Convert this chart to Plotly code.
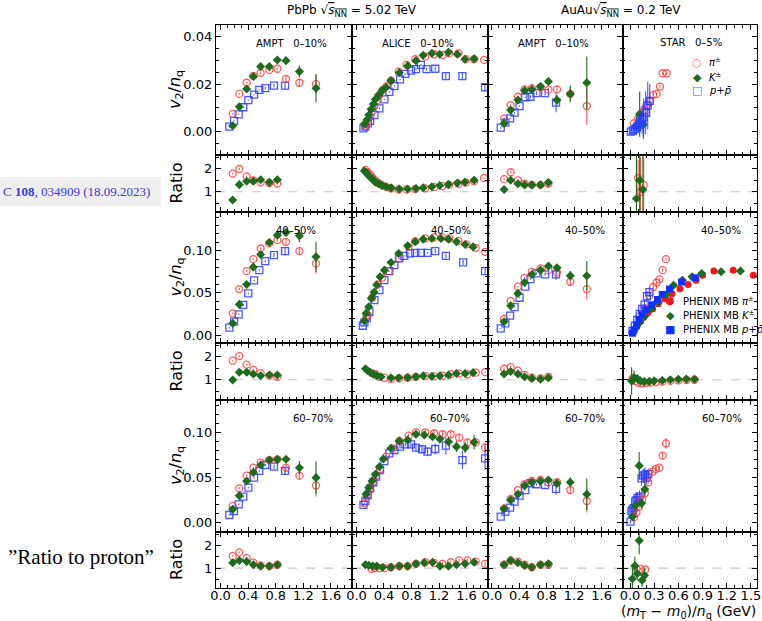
import plotly.graph_objects as go

# ---------------- data ----------------
# AMPT bins (shared by the AMPT panels)
AMPT_X_PI = [0.177, 0.273, 0.379, 0.476, 0.582, 0.708, 0.824, 0.949, 1.143, 1.384]
AMPT_X_K = [0.177, 0.273, 0.379, 0.476, 0.582, 0.708, 0.824, 0.949, 1.143, 1.384]
AMPT_X_P = [0.128, 0.196, 0.264, 0.330, 0.403, 0.486, 0.562, 0.649, 0.775, 0.935]
AMPT_X_RATIO = [0.177, 0.273, 0.379, 0.476, 0.582, 0.708, 0.824]

# PbPb AMPT 0-10%
pb_ampt_010_pi = [0.0075, 0.0159, 0.0206, 0.0235, 0.0248, 0.0260, 0.0265, 0.0222, 0.0206, 0.0200]
pb_ampt_010_pi_err = [0.0004, 0.0004, 0.0004, 0.0004, 0.0005, 0.0005, 0.0006, 0.0012, 0.0015, 0.004]
pb_ampt_010_k = [0.0025, 0.0105, 0.0180, 0.0232, 0.0274, 0.0274, 0.0302, 0.0299, 0.0253, 0.0183]
pb_ampt_010_k_err = [0.0004, 0.0004, 0.0005, 0.0005, 0.0006, 0.0007, 0.0008, 0.0012, 0.0025, 0.006]
pb_ampt_010_p = [0.0021, 0.0046, 0.0073, 0.0103, 0.0133, 0.0156, 0.0176, 0.0183, 0.0194, 0.0194]
pb_ampt_010_p_err = [0.0003, 0.0003, 0.0003, 0.0003, 0.0003, 0.0003, 0.0003, 0.0005, 0.0008, 0.0015]
pb_ampt_010_r_pi = [1.79, 1.99, 1.67, 1.50, 1.41, 1.38, 1.36]
pb_ampt_010_r_k = [0.64, 1.31, 1.46, 1.46, 1.52, 1.41, 1.52]

# PbPb AMPT 40-50%
pb_ampt_4050_pi = [0.0257, 0.0545, 0.0758, 0.0900, 0.1027, 0.1087, 0.1126, 0.1106, 0.0995, 0.0850]
pb_ampt_4050_k = [0.0138, 0.0363, 0.0600, 0.0806, 0.0956, 0.1098, 0.1185, 0.1217, 0.1177, 0.0928]
pb_ampt_4050_p = [0.0087, 0.0158, 0.0245, 0.0356, 0.0494, 0.0648, 0.0770, 0.0877, 0.0948, 0.0995]
pb_ampt_4050_r_pi = [1.83, 2.03, 1.66, 1.43, 1.29, 1.18, 1.13]
pb_ampt_4050_r_k = [0.99, 1.33, 1.33, 1.25, 1.18, 1.21, 1.21]

# PbPb AMPT 60-70%
pb_ampt_6070_pi = [0.0185, 0.0380, 0.0520, 0.0608, 0.0665, 0.0693, 0.0701, 0.0608, 0.0520, 0.0410]
pb_ampt_6070_k = [0.0148, 0.0299, 0.0461, 0.0557, 0.0638, 0.0693, 0.0701, 0.0701, 0.0608, 0.0498]
pb_ampt_6070_p = [0.0085, 0.0129, 0.0203, 0.0288, 0.0387, 0.0498, 0.0572, 0.0638, 0.0619, 0.0572]
pb_ampt_6070_r_pi = [1.53, 1.70, 1.44, 1.24, 1.12, 1.09, 1.15]
pb_ampt_6070_r_k = [1.24, 1.34, 1.29, 1.15, 1.09, 1.09, 1.15]

# AuAu AMPT 0-10%
au_ampt_010_pi = [0.0056, 0.0112, 0.0147, 0.0178, 0.0183, 0.0187, 0.0176, 0.0178, 0.0159, 0.0108]
au_ampt_010_pi_err = [0.0004, 0.0004, 0.0005, 0.0005, 0.0006, 0.0007, 0.0009, 0.0015, 0.003, 0.0079]
au_ampt_010_k = [0.0035, 0.0091, 0.0133, 0.0173, 0.0178, 0.0190, 0.0211, 0.0133, 0.0159, 0.0206]
au_ampt_010_k_err = [0.0004, 0.0005, 0.0005, 0.0006, 0.0007, 0.0008, 0.001, 0.002, 0.0035, 0.011]
au_ampt_010_p = [0.0017, 0.0038, 0.0056, 0.0080, 0.0108, 0.0145, 0.0147, 0.0162, 0.0162, 0.0122]
au_ampt_010_p_err = [0.0003, 0.0003, 0.0003, 0.0003, 0.0003, 0.0003, 0.0006, 0.0008, 0.001, 0.004]
au_ampt_010_r_pi = [1.55, 1.85, 1.50, 1.35, 1.30, 1.30, 1.35]
au_ampt_010_r_k = [1.10, 1.50, 1.35, 1.30, 1.30, 1.30, 1.40]

# AuAu AMPT 40-50%
au_ampt_4050_pi = [0.0190, 0.0403, 0.0573, 0.0679, 0.0750, 0.0790, 0.0770, 0.0743, 0.0632, 0.0545]
au_ampt_4050_k = [0.0158, 0.0347, 0.0494, 0.0624, 0.0719, 0.0770, 0.0818, 0.0798, 0.0703, 0.0703]
au_ampt_4050_p = [0.0079, 0.0138, 0.0229, 0.0332, 0.0442, 0.0573, 0.0664, 0.0731, 0.0719, 0.0719]
au_ampt_4050_r_pi = [1.48, 1.55, 1.40, 1.21, 1.09, 1.06, 1.13]
au_ampt_4050_r_k = [1.25, 1.36, 1.25, 1.13, 1.06, 1.03, 1.09]

# AuAu AMPT 60-70%
au_ampt_6070_pi = [0.0159, 0.0262, 0.0361, 0.0425, 0.0461, 0.0472, 0.0447, 0.0447, 0.0361, 0.0240]
au_ampt_6070_k = [0.0153, 0.0251, 0.0314, 0.0410, 0.0447, 0.0461, 0.0472, 0.0435, 0.0447, 0.0314]
au_ampt_6070_p = [0.0066, 0.0122, 0.0166, 0.0232, 0.0299, 0.0361, 0.0436, 0.0425, 0.0417, 0.0373]
au_ampt_6070_r_pi = [1.15, 1.34, 1.29, 1.15, 1.04, 1.15, 1.15]
au_ampt_6070_r_k = [1.15, 1.34, 1.24, 1.12, 1.04, 1.15, 1.19]

# ALICE 0-10%
alice_010_pi_x = [0.130, 0.164, 0.198, 0.227, 0.261, 0.295, 0.333, 0.382, 0.440, 0.502, 0.614,
                  0.729, 0.855, 1.000, 1.130, 1.251, 1.348, 1.483, 1.590, 1.710, 1.855]
alice_010_pi = [0.0024, 0.0042, 0.0063, 0.0087, 0.0108, 0.0131, 0.0153, 0.0176, 0.0192, 0.0215, 0.0253,
                0.0281, 0.0305, 0.0316, 0.0326, 0.0323, 0.0330, 0.0330, 0.0305, 0.0305, 0.0302]
alice_010_k_x = [0.116, 0.150, 0.179, 0.213, 0.246, 0.275, 0.324, 0.372, 0.430, 0.502, 0.623,
                 0.744, 0.865, 0.970, 1.096, 1.210, 1.336, 1.466, 1.577, 1.710]
alice_010_k = [0.0032, 0.0049, 0.0070, 0.0094, 0.0117, 0.0136, 0.0155, 0.0173, 0.0187, 0.0215, 0.0248,
               0.0277, 0.0299, 0.0322, 0.0330, 0.0326, 0.0334, 0.0326, 0.0305, 0.0307]
alice_010_p_x = [0.101, 0.130, 0.164, 0.198, 0.261, 0.333, 0.406, 0.478, 0.551, 0.633, 0.710,
                 0.792, 0.865, 0.937, 1.019, 1.145, 1.300, 1.540, 1.869]
alice_010_p = [0.0014, 0.0021, 0.0035, 0.0046, 0.0070, 0.0098, 0.0136, 0.0168, 0.0192, 0.0220, 0.0243,
               0.0257, 0.0263, 0.0281, 0.0263, 0.0265, 0.0234, 0.0234, 0.0187]
alice_010_p_err = [0.0003] * 13 + [0.0004, 0.0005, 0.0008, 0.0012, 0.0012, 0.0015]
alice_010_r_pi = [1.95, 1.85, 1.75, 1.62, 1.52, 1.43, 1.35, 1.27, 1.20, 1.15, 1.10,
                  1.10, 1.12, 1.15, 1.20, 1.25, 1.30, 1.35, 1.40, 1.45, 1.60]
alice_010_r_k = [1.90, 1.82, 1.70, 1.60, 1.50, 1.42, 1.35, 1.28, 1.22, 1.17, 1.12,
                 1.12, 1.14, 1.17, 1.22, 1.27, 1.32, 1.38, 1.42, 1.50]

# ALICE 40-50%
alice_4050_pi_x = [0.140, 0.164, 0.227, 0.309, 0.372, 0.468, 0.614, 0.758, 0.855, 1.000, 1.130,
                   1.242, 1.348, 1.483, 1.600, 1.734, 1.870]
alice_4050_pi = [0.0198, 0.0237, 0.0442, 0.0600, 0.0679, 0.0758, 0.0909, 0.1046, 0.1114, 0.1146, 0.1158,
                 0.1158, 0.1146, 0.1114, 0.1075, 0.1035, 0.0987]
alice_4050_k_x = [0.116, 0.140, 0.179, 0.217, 0.256, 0.295, 0.343, 0.406, 0.502, 0.614, 0.744,
                  0.855, 0.971, 1.096, 1.227, 1.338, 1.454, 1.580, 1.696]
alice_4050_k = [0.0166, 0.0257, 0.0336, 0.0435, 0.0506, 0.0593, 0.0691, 0.0770, 0.0861, 0.0968, 0.1058,
                0.1106, 0.1138, 0.1146, 0.1146, 0.1138, 0.1106, 0.1075, 0.1046]
alice_4050_p_x = [0.092, 0.116, 0.150, 0.188, 0.261, 0.333, 0.406, 0.478, 0.551, 0.623, 0.696,
                  0.778, 0.855, 0.937, 1.034, 1.145, 1.300, 1.551, 1.870]
alice_4050_p = [0.0110, 0.0150, 0.0198, 0.0276, 0.0415, 0.0533, 0.0652, 0.0758, 0.0830, 0.0909, 0.0940,
                0.0968, 0.0975, 0.0975, 0.0975, 0.0995, 0.0940, 0.0861, 0.0758]
alice_4050_p_err = [0.0005] * 14 + [0.001, 0.0025, 0.003, 0.003, 0.004]
alice_4050_r_pi_x = [0.227, 0.275, 0.333, 0.406, 0.502, 0.623, 0.744, 0.865, 1.000, 1.130, 1.251,
                     1.372, 1.493, 1.613, 1.734, 1.870]
alice_4050_r_pi = [1.28, 1.24, 1.13, 1.09, 1.03, 1.06, 1.09, 1.13, 1.17, 1.15, 1.18,
                   1.24, 1.27, 1.24, 1.31, 1.33]
alice_4050_r_k_x = [0.130, 0.164, 0.198, 0.246, 0.295, 0.357, 0.502, 0.614, 0.744, 0.865, 0.971,
                    1.096, 1.213, 1.338, 1.454, 1.580, 1.696]
alice_4050_r_k = [1.48, 1.39, 1.33, 1.24, 1.18, 1.13, 1.09, 1.09, 1.10, 1.13, 1.17,
                  1.15, 1.17, 1.21, 1.27, 1.27, 1.31]

# ALICE 60-70%
alice_6070_pi_x = [0.116, 0.150, 0.188, 0.237, 0.285, 0.343, 0.430, 0.527, 0.623, 0.758, 0.865,
                   1.000, 1.130, 1.251, 1.372, 1.493, 1.613, 1.734, 1.870]
alice_6070_pi = [0.0214, 0.0288, 0.0361, 0.0447, 0.0520, 0.0594, 0.0730, 0.0823, 0.0904, 0.0962, 0.1000,
                 0.1000, 0.0989, 0.0978, 0.0978, 0.0940, 0.0889, 0.0889, 0.0830]
alice_6070_pi_err = [0.001] * 9 + [0.002, 0.002, 0.003, 0.003, 0.003, 0.003, 0.004, 0.004, 0.005, 0.006]
alice_6070_k_x = [0.140, 0.179, 0.227, 0.275, 0.333, 0.391, 0.502, 0.623, 0.744, 0.865, 0.986,
                  1.106, 1.213, 1.338, 1.454, 1.580, 1.710]
alice_6070_k = [0.0314, 0.0387, 0.0461, 0.0535, 0.0619, 0.0704, 0.0823, 0.0904, 0.0915, 0.0978, 0.0970,
                0.0951, 0.0926, 0.0896, 0.0841, 0.0830, 0.0889]
alice_6070_k_err = [0.001] * 8 + [0.002, 0.003, 0.004, 0.004, 0.005, 0.005, 0.006, 0.006, 0.008]
alice_6070_p_x = [0.101, 0.130, 0.164, 0.198, 0.246, 0.285, 0.343, 0.406, 0.478, 0.551, 0.633,
                  0.710, 0.792, 0.865, 0.952, 1.034, 1.145, 1.300, 1.541, 1.870]
alice_6070_p = [0.0196, 0.0240, 0.0306, 0.0380, 0.0447, 0.0509, 0.0583, 0.0682, 0.0767, 0.0804, 0.0841,
                0.0867, 0.0867, 0.0830, 0.0812, 0.0785, 0.0815, 0.0852, 0.0693, 0.0712]
alice_6070_p_err = [0.001] * 10 + [0.002, 0.002, 0.003, 0.004, 0.004, 0.005, 0.006, 0.010, 0.010, 0.013]
alice_6070_r_pi_x = [0.220, 0.266, 0.333, 0.406, 0.502, 0.623, 0.744, 0.865, 1.000, 1.130, 1.251,
                     1.372, 1.493, 1.613, 1.734, 1.870]
alice_6070_r_pi = [0.97, 1.00, 1.00, 1.00, 1.04, 1.09, 1.09, 1.19, 1.26, 1.22, 1.19,
                   1.26, 1.34, 1.34, 1.29, 1.19]
alice_6070_r_k_x = [0.130, 0.179, 0.237, 0.295, 0.382, 0.502, 0.623, 0.744, 0.865, 0.986, 1.106,
                    1.213, 1.338, 1.454, 1.580, 1.710]
alice_6070_r_k = [1.15, 1.12, 1.09, 1.09, 1.04, 1.04, 1.09, 1.09, 1.19, 1.24, 1.26,
                  1.09, 1.09, 1.15, 1.19, 1.26]

# STAR 0-5%
star_005_pi_x = [0.047, 0.101, 0.131, 0.172, 0.205, 0.247, 0.288, 0.330, 0.371, 0.405, 0.455]
star_005_pi = [0.0035, 0.0056, 0.0070, 0.0091, 0.0112, 0.0126, 0.0155, 0.0159, 0.0190, 0.0246, 0.0246]
star_005_k_x = [0.080, 0.120, 0.165]
star_005_k = [0.0025, 0.0074, 0.0030]
star_005_k_err = [0.004, 0.0095, 0.006]
star_005_p_x = [0.010, 0.035, 0.060, 0.085, 0.110, 0.130, 0.150, 0.170, 0.195, 0.220, 0.245]
star_005_p = [0.0000, 0.0005, 0.0012, 0.0020, 0.0030, 0.0040, 0.0050, 0.0060, 0.0080, 0.0110, 0.0130]
star_005_p_err = [0.0015, 0.002, 0.002, 0.003, 0.003, 0.004, 0.006, 0.008, 0.009, 0.010, 0.007]
star_005_r_pi_x = [0.100, 0.130, 0.170]
star_005_r_pi = [1.6, 1.0, 1.3]
star_005_r_pi_err = [0.8, 1.5, 1.2]
star_005_r_k_x = [0.080, 0.120, 0.160]
star_005_r_k = [0.7, 1.5, 1.1]
star_005_r_k_err = [3.0, 3.0, 3.0]

# STAR 40-50% and PHENIX minimum bias
star_4050_pi_x = [0.120, 0.180, 0.240, 0.288, 0.330, 0.363, 0.404, 0.446]
star_4050_pi = [0.022, 0.032, 0.047, 0.057, 0.062, 0.066, 0.077, 0.090]
star_4050_p_x = [0.030, 0.060, 0.090, 0.120, 0.150, 0.180, 0.210, 0.240]
star_4050_p = [0.005, 0.011, 0.018, 0.025, 0.031, 0.036, 0.046, 0.051]
star_4050_p_err = [0.002, 0.002, 0.003, 0.003, 0.004, 0.005, 0.006, 0.006]
phenix_pi_x = [0.05, 0.09, 0.13, 0.17, 0.22, 0.28, 0.35, 0.43, 0.52, 0.62, 0.72, 0.82, 0.90, 1.04, 1.28, 1.53]
phenix_pi = [0.006, 0.011, 0.016, 0.021, 0.026, 0.031, 0.037, 0.043, 0.049, 0.055, 0.060, 0.065,
             0.071, 0.076, 0.077, 0.071]
phenix_k_x = [0.07, 0.12, 0.18, 0.26, 0.35, 0.45, 0.54, 0.65, 0.77, 0.89, 1.13, 1.37]
phenix_k = [0.008, 0.015, 0.022, 0.031, 0.039, 0.048, 0.059, 0.065, 0.069, 0.073, 0.075, 0.076]
phenix_p_x = [0.03, 0.05, 0.08, 0.11, 0.15, 0.20, 0.27, 0.34, 0.40, 0.49, 0.64, 0.81]
phenix_p = [0.002, 0.006, 0.012, 0.018, 0.024, 0.030, 0.036, 0.042, 0.048, 0.0545, 0.063, 0.068]
phenix_r_pi_x = [0.03, 0.06, 0.10, 0.14, 0.19, 0.25, 0.32, 0.40, 0.50, 0.60, 0.70, 0.80]
phenix_r_pi = [1.05, 0.95, 0.88, 0.85, 0.86, 0.88, 0.90, 0.92, 0.95, 0.97, 0.99, 1.00]
phenix_r_k_x = [0.02, 0.05, 0.09, 0.13, 0.18, 0.24, 0.30, 0.40, 0.50, 0.60, 0.70, 0.80]
phenix_r_k = [0.95, 1.10, 1.05, 0.95, 0.92, 0.93, 0.95, 0.97, 1.00, 1.02, 1.03, 1.02]
phenix_r_k_err = [0.6, 0.3, 0.15, 0.1, 0.08, 0.05, 0.04, 0.03, 0.03, 0.03, 0.03, 0.03]

# STAR 60-70%
star_6070_pi_x = [0.050, 0.080, 0.114, 0.150, 0.184, 0.226, 0.280, 0.321, 0.363, 0.404, 0.446]
star_6070_pi = [0.006, 0.011, 0.0177, 0.025, 0.0325, 0.0447, 0.0564, 0.0594, 0.0608, 0.0741, 0.0878]
star_6070_pi_err = [0.002, 0.002, 0.002, 0.002, 0.002, 0.002, 0.002, 0.002, 0.002, 0.004, 0.006]
star_6070_k_x = [0.031, 0.064, 0.114, 0.143, 0.184]
star_6070_k = [0.0066, 0.0188, 0.0631, 0.0214, 0.0369]
star_6070_k_err = [0.003, 0.006, 0.015, 0.006, 0.008]
star_6070_p_x = [0.006, 0.018, 0.031, 0.045, 0.064, 0.080, 0.093, 0.118, 0.143, 0.165, 0.184, 0.205, 0.226]
star_6070_p = [0.0011, 0.0125, 0.0144, 0.0160, 0.0236, 0.0250, 0.0273, 0.0290, 0.0490, 0.0520, 0.0531,
               0.0500, 0.0538]
star_6070_p_err = [0.002, 0.005, 0.005, 0.005, 0.006, 0.006, 0.006, 0.007, 0.008, 0.008, 0.008, 0.008, 0.006]
star_6070_r_pi_x = [0.080, 0.130, 0.190]
star_6070_r_pi = [0.97, 0.97, 0.94]
star_6070_r_k_x = [0.03, 0.06, 0.09, 0.114, 0.15, 0.18]
star_6070_r_k = [0.53, 1.10, 0.75, 2.22, 0.46, 0.68]
star_6070_r_k_err = [0.6, 0.4, 0.3, 0.6, 0.3, 0.3]

# ---------------- layout geometry (pixels) ----------------
W, H = 762, 621
COL_EDGES = [216, 352, 487.5, 622.5, 757]
ROW_EDGES = [25, 155, 212, 343, 400, 532, 588]
FONT = "DejaVu Sans"

RED = "rgba(255,45,45,0.78)"
GREEN = "#1e6b1e"
BLUE = "rgba(40,60,255,0.85)"
PHX_RED = "#f01818"
PHX_BLUE = "#1030ff"

STYLE = {
    "pi": dict(symbol="circle-open", size=7, color=RED, line=dict(width=1.3, color=RED)),
    "k": dict(symbol="diamond", size=7, color=GREEN, line=dict(width=0, color=GREEN)),
    "p": dict(symbol="square-open", size=7, color=BLUE, line=dict(width=1.3, color=BLUE)),
    "phx_pi": dict(symbol="circle", size=7, color=PHX_RED, line=dict(width=0)),
    "phx_k": dict(symbol="diamond", size=7, color=GREEN, line=dict(width=0)),
    "phx_p": dict(symbol="square", size=7, color=PHX_BLUE, line=dict(width=0)),
}
ERRCOL = {"pi": RED, "k": GREEN, "p": BLUE, "phx_pi": PHX_RED, "phx_k": GREEN, "phx_p": PHX_BLUE}

fig = go.Figure()


def ax_id(row, col):
    n = row * 4 + col + 1
    return ("x" if n == 1 else f"x{n}"), ("y" if n == 1 else f"y{n}")


def add(row, col, x, y, kind, err=None):
    xa, ya = ax_id(row, col)
    ey = None
    if err is not None:
        if not isinstance(err, list):
            err = [err] * len(y)
        ey = dict(type="data", array=err, visible=True, thickness=1.1, width=0, color=ERRCOL[kind])
    fig.add_trace(go.Scatter(x=x, y=y, mode="markers", xaxis=xa, yaxis=ya, marker=STYLE[kind],
                             error_y=ey, showlegend=False, hoverinfo="x+y"))


# column 1: PbPb AMPT
for r, (pi, k, p, rpi, rk) in enumerate([
    (pb_ampt_010_pi, pb_ampt_010_k, pb_ampt_010_p, pb_ampt_010_r_pi, pb_ampt_010_r_k),
    (pb_ampt_4050_pi, pb_ampt_4050_k, pb_ampt_4050_p, pb_ampt_4050_r_pi, pb_ampt_4050_r_k),
    (pb_ampt_6070_pi, pb_ampt_6070_k, pb_ampt_6070_p, pb_ampt_6070_r_pi, pb_ampt_6070_r_k),
]):
    scale = 1.0 if r == 0 else 3.0
    add(2 * r, 0, AMPT_X_P, p, "p", err=[e * scale for e in pb_ampt_010_p_err])
    add(2 * r, 0, AMPT_X_PI, pi, "pi", err=[e * scale for e in pb_ampt_010_pi_err])
    add(2 * r, 0, AMPT_X_K, k, "k", err=[e * scale for e in pb_ampt_010_k_err])
    add(2 * r + 1, 0, AMPT_X_RATIO, rpi, "pi", err=0.04)
    add(2 * r + 1, 0, AMPT_X_RATIO, rk, "k", err=0.04)

# column 3: AuAu AMPT
for r, (pi, k, p, rpi, rk) in enumerate([
    (au_ampt_010_pi, au_ampt_010_k, au_ampt_010_p, au_ampt_010_r_pi, au_ampt_010_r_k),
    (au_ampt_4050_pi, au_ampt_4050_k, au_ampt_4050_p, au_ampt_4050_r_pi, au_ampt_4050_r_k),
    (au_ampt_6070_pi, au_ampt_6070_k, au_ampt_6070_p, au_ampt_6070_r_pi, au_ampt_6070_r_k),
]):
    scale = 1.0 if r == 0 else 1.6
    add(2 * r, 2, AMPT_X_P, p, "p", err=[e * scale for e in au_ampt_010_p_err])
    add(2 * r, 2, AMPT_X_PI, pi, "pi", err=[e * scale for e in au_ampt_010_pi_err])
    add(2 * r, 2, AMPT_X_K, k, "k", err=[e * scale for e in au_ampt_010_k_err])
    add(2 * r + 1, 2, AMPT_X_RATIO, rpi, "pi", err=0.05)
    add(2 * r + 1, 2, AMPT_X_RATIO, rk, "k", err=0.05)

# column 2: ALICE
add(0, 1, alice_010_p_x, alice_010_p, "p", err=alice_010_p_err)
add(0, 1, alice_010_pi_x, alice_010_pi, "pi", err=0.0004)
add(0, 1, alice_010_k_x, alice_010_k, "k", err=0.0004)
add(1, 1, alice_010_pi_x, alice_010_r_pi, "pi", err=0.04)
add(1, 1, alice_010_k_x, alice_010_r_k, "k", err=0.04)

add(2, 1, alice_4050_p_x, alice_4050_p, "p", err=alice_4050_p_err)
add(2, 1, alice_4050_pi_x, alice_4050_pi, "pi", err=0.001)
add(2, 1, alice_4050_k_x, alice_4050_k, "k", err=0.001)
add(3, 1, alice_4050_r_pi_x, alice_4050_r_pi, "pi", err=0.03)
add(3, 1, alice_4050_r_k_x, alice_4050_r_k, "k", err=0.03)

add(4, 1, alice_6070_p_x, alice_6070_p, "p", err=alice_6070_p_err)
add(4, 1, alice_6070_pi_x, alice_6070_pi, "pi", err=alice_6070_pi_err)
add(4, 1, alice_6070_k_x, alice_6070_k, "k", err=alice_6070_k_err)
add(5, 1, alice_6070_r_pi_x, alice_6070_r_pi, "pi", err=0.08)
add(5, 1, alice_6070_r_k_x, alice_6070_r_k, "k", err=0.08)

# column 4: STAR / PHENIX
add(0, 3, star_005_pi_x, star_005_pi, "pi", err=0.0006)
add(0, 3, star_005_k_x, star_005_k, "k", err=star_005_k_err)
add(0, 3, star_005_p_x, star_005_p, "p", err=star_005_p_err)
add(1, 3, star_005_r_pi_x, star_005_r_pi, "pi", err=star_005_r_pi_err)
add(1, 3, star_005_r_k_x, star_005_r_k, "k", err=star_005_r_k_err)

add(2, 3, star_4050_pi_x, star_4050_pi, "pi", err=0.002)
add(2, 3, star_4050_p_x, star_4050_p, "p", err=star_4050_p_err)
add(2, 3, phenix_pi_x, phenix_pi, "phx_pi")
add(2, 3, phenix_k_x, phenix_k, "phx_k")
add(2, 3, phenix_p_x, phenix_p, "phx_p")
add(3, 3, phenix_r_pi_x, phenix_r_pi, "pi", err=0.03)
add(3, 3, phenix_r_k_x, phenix_r_k, "k", err=phenix_r_k_err)

add(4, 3, star_6070_p_x, star_6070_p, "p", err=star_6070_p_err)
add(4, 3, star_6070_pi_x, star_6070_pi, "pi", err=star_6070_pi_err)
add(4, 3, star_6070_k_x, star_6070_k, "k", err=star_6070_k_err)
add(5, 3, star_6070_r_pi_x, star_6070_r_pi, "pi", err=0.05)
add(5, 3, star_6070_r_k_x, star_6070_r_k, "k", err=star_6070_r_k_err)

# ---------------- axes ----------------
MAIN_Y = [
    dict(range=[-0.0098, 0.0449], dtick=0.02, tickformat=".2f", minor=0.005),
    dict(range=[-0.0095, 0.146], dtick=0.05, tickformat=".2f", minor=0.01),
    dict(range=[-0.0103, 0.1357], dtick=0.05, tickformat=".2f", minor=0.01),
]
RATIO_Y = dict(range=[0.12, 2.6], dtick=1, tickformat="d", minor=0.5)

layout = dict(
    width=W, height=H, margin=dict(l=0, r=0, t=0, b=0, autoexpand=False),
    paper_bgcolor="white", plot_bgcolor="white", showlegend=False,
    font=dict(family=FONT, size=13, color="black"),
    shapes=[], annotations=[],
)

for row in range(6):
    for col in range(4):
        n = row * 4 + col + 1
        xa, ya = ax_id(row, col)
        xkey = "xaxis" if n == 1 else f"xaxis{n}"
        ykey = "yaxis" if n == 1 else f"yaxis{n}"
        x0, x1 = COL_EDGES[col], COL_EDGES[col + 1]
        y0, y1 = ROW_EDGES[row], ROW_EDGES[row + 1]
        if col < 3:
            xr, xd, xm = [-0.065, 1.905], 0.4, 0.1
        else:
            xr, xd, xm = [-0.093, 1.575], 0.3, 0.1
        layout[xkey] = dict(
            domain=[x0 / W, x1 / W], anchor=ya, range=xr, dtick=xd, tick0=0,
            tickformat=".1f", showticklabels=(row == 5), ticklabelstandoff=-5,
            ticks="inside", ticklen=5, tickwidth=1, tickcolor="black",
            showline=True, mirror="allticks", linecolor="black", linewidth=1.2,
            showgrid=False, zeroline=False, fixedrange=True,
            minor=dict(ticks="inside", ticklen=2.5, dtick=xm, tick0=0, tickcolor="black", showgrid=False),
            tickfont=dict(size=13),
        )
        spec = MAIN_Y[row // 2] if row % 2 == 0 else RATIO_Y
        layout[ykey] = dict(
            domain=[1 - y1 / H, 1 - y0 / H], anchor=xa, range=spec["range"], dtick=spec["dtick"],
            tick0=0, tickformat=spec["tickformat"], showticklabels=(col == 0),
            ticks="inside", ticklen=5, tickwidth=1, tickcolor="black",
            showline=True, mirror="allticks", linecolor="black", linewidth=1.2,
            showgrid=False, zeroline=False, fixedrange=True,
            minor=dict(ticks="inside", ticklen=2.5, dtick=spec["minor"], tick0=0, tickcolor="black",
                       showgrid=False),
            tickfont=dict(size=13),
        )
        if row % 2 == 1:
            layout["shapes"].append(dict(
                type="line", xref=f"{xa} domain", yref=ya, x0=0, x1=1, y0=1, y1=1,
                line=dict(color="#c8c8c8", width=1.2, dash="dash"), layer="below"))

ann = layout["annotations"]


def px_text(text, x, y, size=11, xanchor="center", yanchor="middle", angle=0, family=FONT, color="black"):
    ann.append(dict(text=text, x=x / W, y=1 - y / H, xref="paper", yref="paper", showarrow=False,
                    xanchor=xanchor, yanchor=yanchor, textangle=angle,
                    font=dict(size=size, family=family, color=color)))


# panel labels
for (txt, x, y) in [
    ("AMPT   0–10%", 291, 44), ("ALICE   0–10%", 418, 44), ("AMPT   0–10%", 553, 44), ("STAR   0–5%", 691, 43),
    ("40–50%", 296, 230), ("40–50%", 451, 230), ("40–50%", 585, 230), ("40–50%", 721, 230),
    ("60–70%", 313, 418), ("60–70%", 450, 418), ("60–70%", 585, 418), ("60–70%", 722, 418),
]:
    px_text(txt, x, y, size=10)

# column titles
OVER = "<span style='text-decoration:overline'><i>s</i><sub>NN</sub></span>"
px_text("PbPb √" + OVER + " = 5.02 TeV", 352, 11, size=12)
px_text("AuAu√" + OVER + " = 0.2 TeV", 621, 11, size=12)

# axis titles
V2 = "<i>v</i><sub>2</sub>/<i>n</i><sub>q</sub>"
for yc in [(25 + 155) / 2, (212 + 343) / 2, (400 + 532) / 2]:
    px_text(V2, 176, yc, size=16, angle=-90)
for yc in [(155 + 212) / 2, (343 + 400) / 2, (532 + 588) / 2]:
    px_text("Ratio", 176, yc, size=16, angle=-90)
px_text("(<i>m</i><sub>T</sub> − <i>m</i><sub>0</sub>)/<i>n</i><sub>q</sub> (GeV)", 758, 623, size=14,
        xanchor="right", yanchor="bottom")

# legend keys (symbol glyphs plus labels)
PI_LBL = "<i>π</i><sup>±</sup>"
K_LBL = "<i>K</i><sup>±</sup>"
P_LBL = "<i>p</i>+<i>p̄</i>"
for (glyph, col, label, y) in [("○", RED, PI_LBL, 62), ("◆", GREEN, K_LBL, 77), ("□", BLUE, P_LBL, 91)]:
    px_text(glyph, 697, y, size=11, color=col)
    px_text(label, 707, y, size=10, xanchor="left")
for (glyph, col, label, y) in [("●", PHX_RED, PI_LBL, 301), ("◆", GREEN, K_LBL, 315), ("■", PHX_BLUE, P_LBL, 329)]:
    px_text(glyph, 670, y, size=11, color=col)
    px_text("PHENIX MB " + label, 681, y, size=10, xanchor="left")

# notes at the left edge
layout["shapes"].append(dict(type="rect", xref="paper", yref="paper", x0=0, x1=161 / W,
                             y0=1 - 206 / H, y1=1 - 177 / H, fillcolor="#efefef", line=dict(width=0),
                             layer="below"))
px_text("C <b>108</b>, 034909 (18.09.2023)", 1, 191.5, size=13, xanchor="left",
        family="Liberation Serif", color="#3a3ad8")
px_text("”Ratio to proton”", 6, 557, size=21, xanchor="left", family="Liberation Serif")

fig.update_layout(**layout)
fig.write_html("out.html")
